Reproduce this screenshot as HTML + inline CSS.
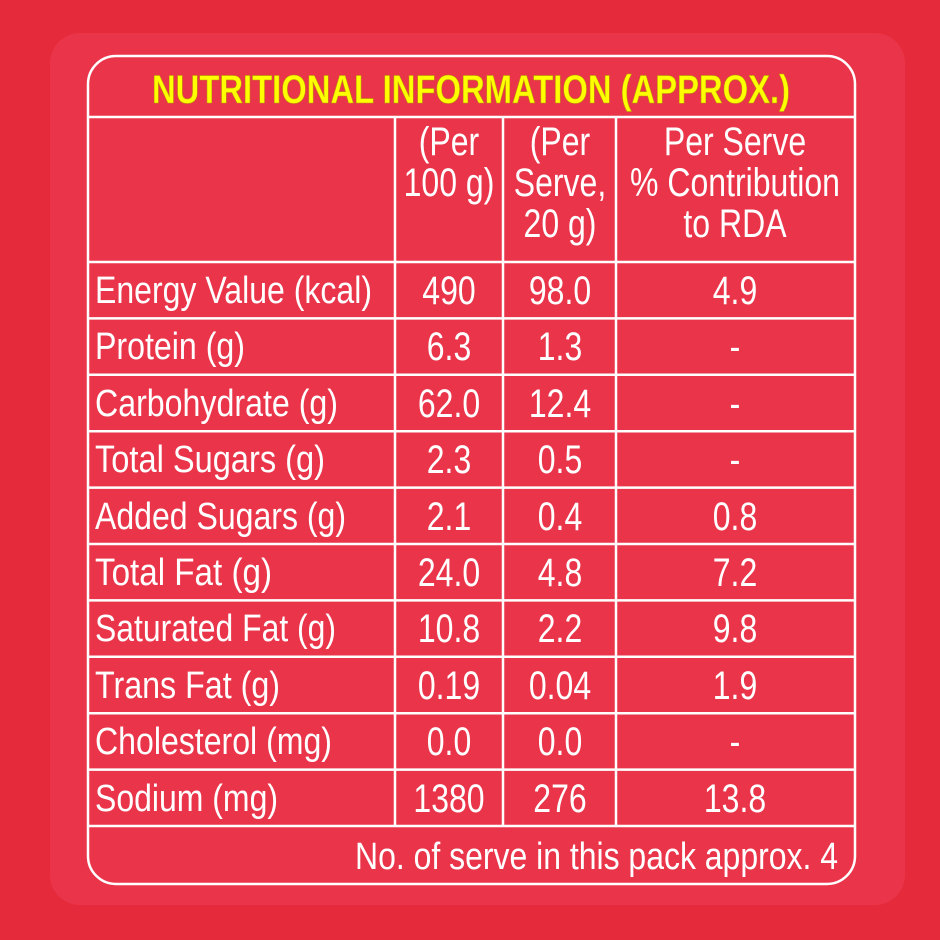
<!DOCTYPE html>
<html><head><meta charset="utf-8"><style>
html,body{margin:0;padding:0;background:#e52a3b;}
svg{display:block}
text{font-family:"Liberation Sans Narrow","Liberation Sans",sans-serif;fill:#fff;font-size:38px}
.c text{font-size:40px}
</style></head><body>
<svg width="940" height="940" viewBox="0 0 940 940">
<rect width="940" height="940" fill="#e52a3b"/>
<rect x="50" y="33" width="855" height="872" rx="30" fill="#ea3449"/>
<g stroke="#fff" stroke-width="2.5" fill="none">
<rect x="88" y="56" width="767" height="828" rx="28"/>
<line x1="88" y1="117" x2="855" y2="117"/>
<line x1="88" y1="262" x2="855" y2="262"/>
<line x1="88" y1="318.4" x2="855" y2="318.4"/>
<line x1="88" y1="374.8" x2="855" y2="374.8"/>
<line x1="88" y1="431.2" x2="855" y2="431.2"/>
<line x1="88" y1="487.6" x2="855" y2="487.6"/>
<line x1="88" y1="544" x2="855" y2="544"/>
<line x1="88" y1="600.4" x2="855" y2="600.4"/>
<line x1="88" y1="656.8" x2="855" y2="656.8"/>
<line x1="88" y1="713.2" x2="855" y2="713.2"/>
<line x1="88" y1="769.6" x2="855" y2="769.6"/>
<line x1="88" y1="826" x2="855" y2="826"/>
<line x1="395" y1="117" x2="395" y2="826"/>
<line x1="503" y1="117" x2="503" y2="826"/>
<line x1="616" y1="117" x2="616" y2="826"/>
</g>
<text x="152" y="103" textLength="638" lengthAdjust="spacingAndGlyphs" style="fill:#ffff00;font-weight:bold;font-size:40px;stroke:#b8a000;stroke-width:0.6">NUTRITIONAL INFORMATION (APPROX.)</text>
<g>
<text x="95" y="303" textLength="277" lengthAdjust="spacingAndGlyphs">Energy Value (kcal)</text>
<text x="95" y="359" textLength="150" lengthAdjust="spacingAndGlyphs">Protein (g)</text>
<text x="95" y="416" textLength="243" lengthAdjust="spacingAndGlyphs">Carbohydrate (g)</text>
<text x="95" y="472" textLength="230" lengthAdjust="spacingAndGlyphs">Total Sugars (g)</text>
<text x="95" y="529" textLength="251" lengthAdjust="spacingAndGlyphs">Added Sugars (g)</text>
<text x="95" y="585" textLength="177" lengthAdjust="spacingAndGlyphs">Total Fat (g)</text>
<text x="95" y="641" textLength="241" lengthAdjust="spacingAndGlyphs">Saturated Fat (g)</text>
<text x="95" y="698" textLength="185" lengthAdjust="spacingAndGlyphs">Trans Fat (g)</text>
<text x="95" y="754" textLength="237" lengthAdjust="spacingAndGlyphs">Cholesterol (mg)</text>
<text x="95" y="811" textLength="183" lengthAdjust="spacingAndGlyphs">Sodium (mg)</text>
</g>
<g class="c" text-anchor="middle" transform="matrix(0.8 0 0 1 89.8 0)">
<text x="449" y="155">(Per</text><text x="449" y="196">100 g)</text>
<text x="449" y="304">490</text>
<text x="449" y="360">6.3</text>
<text x="449" y="417">62.0</text>
<text x="449" y="473">2.3</text>
<text x="449" y="530">2.1</text>
<text x="449" y="586">24.0</text>
<text x="449" y="642">10.8</text>
<text x="449" y="699">0.19</text>
<text x="449" y="755">0.0</text>
<text x="449" y="812">1380</text>
</g>
<g class="c" text-anchor="middle" transform="matrix(0.8 0 0 1 112 0)">
<text x="560" y="155">(Per</text><text x="560" y="196">Serve,</text><text x="560" y="237">20 g)</text>
<text x="560" y="304">98.0</text>
<text x="560" y="360">1.3</text>
<text x="560" y="417">12.4</text>
<text x="560" y="473">0.5</text>
<text x="560" y="530">0.4</text>
<text x="560" y="586">4.8</text>
<text x="560" y="642">2.2</text>
<text x="560" y="699">0.04</text>
<text x="560" y="755">0.0</text>
<text x="560" y="812">276</text>
</g>
<g class="c" text-anchor="middle" transform="matrix(0.8 0 0 1 147 0)">
<text x="735" y="155">Per Serve</text><text x="735" y="196">% Contribution</text><text x="735" y="237">to RDA</text>
<text x="735" y="304">4.9</text>
<text x="735" y="360">-</text>
<text x="735" y="417">-</text>
<text x="735" y="473">-</text>
<text x="735" y="530">0.8</text>
<text x="735" y="586">7.2</text>
<text x="735" y="642">9.8</text>
<text x="735" y="699">1.9</text>
<text x="735" y="755">-</text>
<text x="735" y="812">13.8</text>
</g>
<text x="355" y="869" textLength="483" lengthAdjust="spacingAndGlyphs">No. of serve in this pack approx. 4</text>
</svg>
</body></html>
